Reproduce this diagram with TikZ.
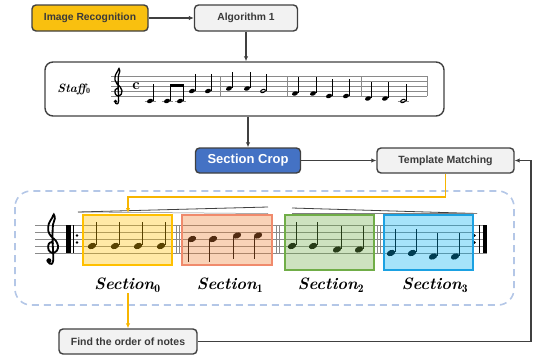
\documentclass[tikz,border=0pt]{standalone}
\usepackage{fontspec}
\newfontfamily\uifont{Liberation Sans}
\usetikzlibrary{arrows.meta}

\definecolor{edge}{HTML}{404040}
\definecolor{txt}{HTML}{3A3A3A}
\definecolor{gold}{HTML}{F9C00F}
\definecolor{ylink}{HTML}{F7B500}
\definecolor{paper}{HTML}{F2F2F2}
\definecolor{cropblue}{HTML}{4472C4}
\definecolor{dashblue}{HTML}{B4C7E7}
\definecolor{staffgray}{HTML}{8A8A8A}
\definecolor{syel}{HTML}{FFC000}
\definecolor{sred}{HTML}{ED7D31}
\definecolor{sredline}{HTML}{F08A6C}
\definecolor{sgrn}{HTML}{70AD47}
\definecolor{sblu}{HTML}{00B0F0}
\definecolor{sbluline}{HTML}{1BA1E2}

% note head, quarter notes with stems, half notes
\newcommand\nhead[3]{\fill[rotate around={22:(#1,#2)}] (#1,#2) ellipse ({0.62*#3} and {0.42*#3});}
\newcommand\qup[3]{\nhead{#1}{#2}{#3}\draw[line width=0.6pt] ({#1+0.57*#3},{#2-0.1*#3}) -- ({#1+0.57*#3},{#2-3.4*#3});}
\newcommand\qdown[3]{\nhead{#1}{#2}{#3}\draw[line width=0.6pt] ({#1-0.57*#3},{#2+0.1*#3}) -- ({#1-0.57*#3},{#2+3.3*#3});}
\newcommand\hup[3]{\draw[line width={#3*0.2pt}, rotate around={22:(#1,#2)}] (#1,#2) ellipse ({0.5*#3} and {0.3*#3});
  \draw[line width=0.6pt] ({#1+0.57*#3},{#2-0.1*#3}) -- ({#1+0.57*#3},{#2-3.4*#3});}
\newcommand\ledger[3]{\draw[staffgray, line width=0.6pt] ({#1-1.1*#3},#2) -- ({#1+1.1*#3},#2);}

% treble clef; #1,#2 = point on the G line, #3 = staff space
\newcommand\gclef[3]{%
  \begin{scope}[shift={(#1,#2)}, x=#3pt, y=#3pt]
    \draw[line width={#3*0.26pt}, line cap=round] plot[smooth, tension=0.6] coordinates {
      (0.30,0.35) (0.05,0.55) (-0.35,0.25) (-0.35,-0.55) (0.20,-1.00) (0.85,-0.65)
      (1.00,0.05) (0.65,0.80) (0.00,1.40) (-0.40,2.20) (-0.30,3.20) (0.15,4.00)
      (0.40,4.50) (0.55,3.90) (0.30,3.10) (0.22,1.50) (0.28,-0.50) (0.32,-2.00)
      (0.10,-2.55) (-0.30,-2.45)};
    \fill (-0.30,-2.10) circle (0.36);
  \end{scope}}

\begin{document}
\begin{tikzpicture}[x=1pt, y=-1pt,
  box/.style={draw=edge, line width=1.4pt, rounded corners=4pt, text=txt,
    inner sep=0pt, minimum height=26pt, font=\uifont\bfseries\fontsize{10}{12}\selectfont},
  smallbox/.style={box, minimum height=25pt, font=\uifont\bfseries\fontsize{10.5}{12}\selectfont},
  arr/.style={draw=edge, line width=1.4pt, -{Latex[length=5pt,width=4.5pt]}},
  yarr/.style={draw=ylink, line width=1.2pt, -{Latex[length=5pt,width=4.5pt]}},
  sline/.style={staffgray, line width=0.6pt},
  secbox/.style={line width=1.3pt, fill opacity=0.35},
  seclabel/.style={font=\fontsize{16.5}{18}\selectfont\bfseries\itshape},
]
\useasboundingbox (0,0) rectangle (534,356);

% ---------- top row ----------
\node[box, fill=gold, minimum width=116pt, font=\uifont\bfseries\fontsize{10.3}{12}\selectfont] (imgrec) at (90,18) {Image Recognition};
\node[box, fill=paper, minimum width=103pt, font=\uifont\bfseries\fontsize{10.3}{12}\selectfont] (algo) at (246,18) {Algorithm 1};
\draw[arr] (imgrec) -- (algo);

% ---------- staff panel ----------
\node[draw=edge, line width=1.4pt, rounded corners=8pt, minimum width=399pt, minimum height=54pt, inner sep=0pt] (staff) at (244.5,89) {};
\node[font=\fontsize{12}{13}\selectfont] (stafflbl) at (74,89) {\bfseries\itshape Staff$_{\mathbf 0}$};
\foreach \y in {76,81,86,91,96} \draw[sline] (111,\y) -- (427,\y);
\foreach \x in {220,287,361,427} \draw[sline] (\x,76) -- (\x,96);
\gclef{117}{91}{5}
\node[font=\fontsize{15}{15}\selectfont\bfseries] (ctime) at (136,86) {c};
% bar 1
\ledger{150}{101}{5}\qup{150}{101}{5}
\ledger{167}{101}{5}\ledger{180}{101}{5}
\qup{167}{101}{5}\qup{180}{101}{5}
\fill (169.6,84) rectangle (183.1,86.6);
\qup{192}{91}{5}\qup{208}{91}{5}
% bar 2
\qup{229}{88.5}{5}\qup{247}{88.5}{5}\hup{263}{91}{5}
% bar 3
\qup{295}{93.5}{5}\qup{313}{93.5}{5}\qup{329}{96}{5}\qup{346}{96}{5}
% bar 4
\qup{368}{98.5}{5}\qup{385}{98.5}{5}\ledger{403}{101}{5}\hup{403}{101}{5}

% ---------- middle row ----------
\node[box, fill=cropblue, text=white, minimum width=105pt, minimum height=25pt, font=\uifont\bfseries\fontsize{13}{15}\selectfont] (crop) at (248,160.5) {Section Crop};
\node[smallbox, fill=paper, minimum width=137pt] (tm) at (445.5,160.5) {Template Matching};
\draw[arr] (algo.south) -- (algo.south |- staff.north);
\draw[arr] (crop.north |- staff.south) -- (crop.north);
\draw[arr] (crop) -- (tm);

% ---------- sections panel ----------
\draw[dashblue, line width=1.6pt, dash pattern=on 7pt off 5pt, rounded corners=16pt] (15,191) rectangle (514,305);
\foreach \y in {225,232,239,246,253} \draw[sline] (35,\y) -- (487,\y);
\gclef{51}{246}{7}
\fill (66,225) rectangle (70.5,253);
\draw[line width=0.6pt] (73,225) -- (73,253);
\fill (77,235.5) circle (1.3) (77,242.5) circle (1.3);
\foreach \x in {176.5,179.5,276,279,377,380} \draw[sline] (\x,225) -- (\x,253);
\fill (474.5,235.5) circle (1.3) (474.5,242.5) circle (1.3);
\draw[line width=0.6pt] (479,225) -- (479,253);
\fill (482.5,225) rectangle (487,253);
% hairpins above the staff
\draw[edge, line width=0.8pt] (78,212) -- (268,207);
\draw[gray, line width=0.5pt] (78,212) -- (268,213.5);
\draw[edge, line width=0.8pt] (292,208) -- (477,213.5);
\draw[gray, line width=0.5pt] (292,213.5) -- (477,213.5);
% notes
\qup{92}{246}{7}\qup{115}{246}{7}\qup{138}{246}{7}\qup{161}{246}{7}
\qdown{192}{239}{7}\qdown{213}{239}{7}\qdown{237}{235.5}{7}\qdown{258}{235.5}{7}
\qup{292}{246}{7}\qup{313}{246}{7}\qup{337}{249.5}{7}\qup{359}{249.5}{7}
\qup{391}{253}{7}\qup{412}{253}{7}\qup{433}{256.5}{7}\qup{455}{256.5}{7}
% section boxes
\draw[secbox, draw=syel, fill=syel] (83,215) rectangle (172,265);
\draw[secbox, draw=sredline, fill=sred] (182,215) rectangle (272,265);
\draw[secbox, draw=sgrn, fill=sgrn] (285,215) rectangle (374,270);
\draw[secbox, draw=sbluline, fill=sblu] (384,215) rectangle (473,270);
\node[seclabel] (sec0) at (127.5,285) {Section$_{\mathbf 0}$};
\node[seclabel] (sec1) at (230,285) {Section$_{\mathbf 1}$};
\node[seclabel] (sec2) at (331,285) {Section$_{\mathbf 2}$};
\node[seclabel] (sec3) at (435,285) {Section$_{\mathbf 3}$};

% ---------- bottom ----------
\node[smallbox, fill=paper, minimum width=138pt] (find) at (128,341.5) {Find the order of notes};
\coordinate (yturn) at (128,197);
\coordinate (s0in) at (128,213);
\coordinate (s0out) at (128,293);
\coordinate (rt) at (531,250);
\draw[yarr] (tm.south) |- (yturn) -- (s0in);
\draw[yarr] (s0out) -- (find.north);
\draw[arr] (find.east) -| (rt) |- (tm.east);
\end{tikzpicture}
\end{document}
